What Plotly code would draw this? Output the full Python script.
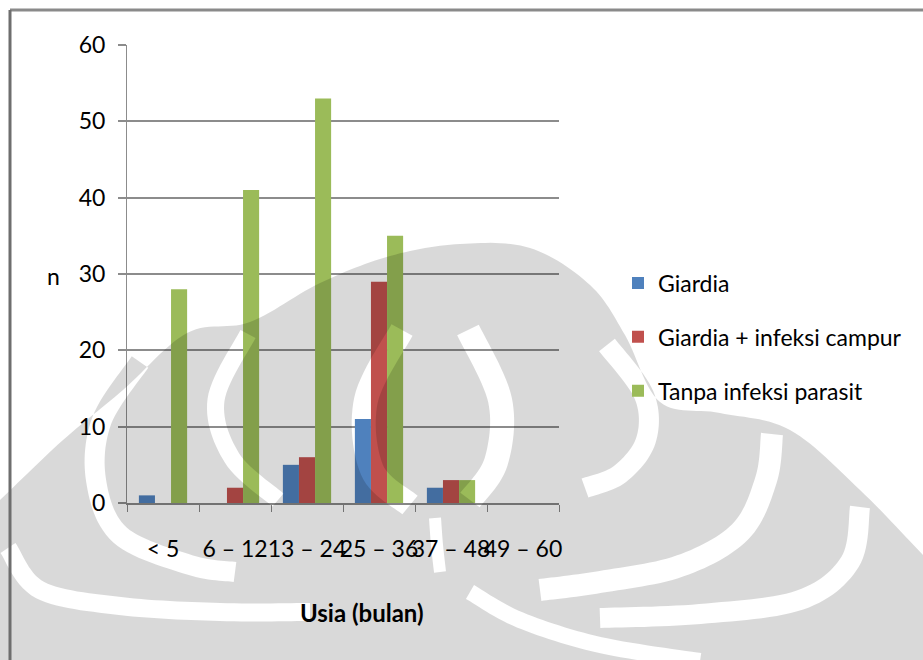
import numpy as np
import plotly.graph_objects as go

categories = ["< 5", "6 – 12", "13 – 24", "25 – 36", "37 – 48", "49 – 60"]
giardia = [1, 0, 5, 11, 2, 0]
campur = [0, 2, 6, 29, 3, 0]
tanpa = [28, 41, 53, 35, 3, 0]
series_names = ["Giardia", "Giardia + infeksi campur", "Tanpa infeksi parasit"]
colors = ["#4F81BD", "#C0504D", "#9BBB59"]
y_ticks = [0, 10, 20, 30, 40, 50, 60]

FONT = "Lato"
W, H = 923, 660
ML, MR, MT, MB = 127, 364, 45, 157
pw, ph = W - ML - MR, H - MT - MB


def px(x):
    return (x - ML) / pw


def py(y):
    return (H - MB - y) / ph


def catmull(pts, n=14):
    P = np.array(pts, dtype=float)
    P = np.vstack([P[0], P, P[-1]])
    out = []
    for i in range(1, len(P) - 2):
        p0, p1, p2, p3 = P[i - 1], P[i], P[i + 1], P[i + 2]
        for t in np.linspace(0, 1, n, endpoint=False):
            t2, t3 = t * t, t * t * t
            out.append(0.5 * ((2 * p1) + (-p0 + p2) * t +
                              (2 * p0 - 5 * p1 + 4 * p2 - p3) * t2 +
                              (-p0 + 3 * p1 - 3 * p2 + p3) * t3))
    out.append(P[-2])
    return np.array(out)


def poly_d(arr):
    s = " L".join(f"{px(x):.4f},{py(y):.4f}" for x, y in arr)
    return "M" + s + " Z"


def band_poly(pts, w):
    c = catmull(pts)
    d = np.gradient(c, axis=0)
    d /= np.linalg.norm(d, axis=1, keepdims=True)
    nrm = np.stack([-d[:, 1], d[:, 0]], axis=1)
    left = c + nrm * w / 2
    right = c - nrm * w / 2
    return np.vstack([left, right[::-1]])


fig = go.Figure()
for i, (name, vals) in enumerate(zip(series_names, [giardia, campur, tanpa])):
    fig.add_trace(go.Bar(
        x=categories, y=vals, name=name, marker_color=colors[i],
        marker_line_width=0, legendgroup=str(i),
    ))

# --- translucent background watermark (approximate) ---
dome_top = [(0, 500), (63, 440), (123, 390), (187, 333), (250, 322), (320, 283),
            (390, 256), (460, 244), (530, 248), (590, 285), (625, 335),
            (660, 402), (720, 413), (790, 430), (860, 490), (923, 555)]
dome = np.vstack([catmull(dome_top), [[923, 662], [0, 662]]])
bands = [
    ([(140, 362), (102, 420), (96, 480), (120, 535), (190, 565), (235, 572)], 20),
    ([(8, 548), (40, 590), (120, 606), (220, 612), (310, 612)], 18),
    ([(248, 334), (216, 400), (232, 458), (278, 500)], 17),
    ([(402, 330), (366, 400), (372, 470), (410, 505)], 24),
    ([(468, 330), (500, 400), (496, 462), (470, 500)], 24),
    ([(435, 518), (437, 545), (440, 572)], 12),
    ([(607, 345), (644, 395), (646, 440), (620, 474), (585, 488)], 20),
    ([(772, 434), (766, 480), (740, 532), (680, 566), (600, 582), (540, 590)], 22),
    ([(860, 507), (850, 562), (800, 600), (700, 614), (600, 618)], 20),
    ([(470, 592), (520, 620), (600, 645), (700, 661)], 16),
]
path = poly_d(dome) + " " + " ".join(poly_d(band_poly(p, w)) for p, w in bands)
fig.add_shape(type="path", path=path, xref="paper", yref="paper",
              fillcolor="rgba(0,0,0,0.15)", fillrule="evenodd",
              line=dict(width=0), layer="above")

fig.update_layout(
    width=W, height=H,
    margin=dict(l=ML, r=MR, t=MT, b=MB),
    paper_bgcolor="white", plot_bgcolor="white",
    barmode="group", bargap=0.33, bargroupgap=0,
    font=dict(family=FONT, size=20, color="black"),
    showlegend=True,
    legend=dict(x=px(618), xanchor="left", y=py(337), yanchor="middle",
                font=dict(size=23, family=FONT), tracegroupgap=21,
                itemwidth=30, bgcolor="rgba(0,0,0,0)"),
    xaxis=dict(
        type="category", showgrid=False, showline=True, linecolor="#868686",
        linewidth=2, ticks="outside", tickson="boundaries", ticklen=7,
        tickcolor="#868686", tickwidth=1, ticklabelstandoff=24, tickangle=0,
        tickfont=dict(size=23, family=FONT),
    ),
    yaxis=dict(
        range=[0, 60], tickvals=y_ticks, showgrid=True, gridcolor="#8c8c8c",
        gridwidth=2, showline=True, linecolor="#8c8c8c", linewidth=1,
        ticks="outside", ticklen=8, tickcolor="#8c8c8c", tickwidth=2,
        zeroline=False, tickfont=dict(size=23, family=FONT),
        ticklabelstandoff=8,
    ),
    annotations=[
        dict(text="n", x=px(53), y=py(276), xref="paper", yref="paper",
             xanchor="center", yanchor="middle", showarrow=False,
             font=dict(size=23, family=FONT)),
        dict(text="<b>Usia (bulan)</b>", x=px(362), y=py(612), xref="paper",
             yref="paper", xanchor="center", yanchor="middle", showarrow=False,
             font=dict(size=24, family=FONT)),
    ],
)

# chart frame (left and top edges visible)
fig.add_shape(type="line", xref="paper", yref="paper", x0=px(10), x1=px(923),
              y0=py(10), y1=py(10), line=dict(color="#8a8a8a", width=3))
fig.add_shape(type="line", xref="paper", yref="paper", x0=px(10), x1=px(10),
              y0=py(10), y1=py(660), line=dict(color="#6e6e6e", width=3))

fig.write_html("out.html")
